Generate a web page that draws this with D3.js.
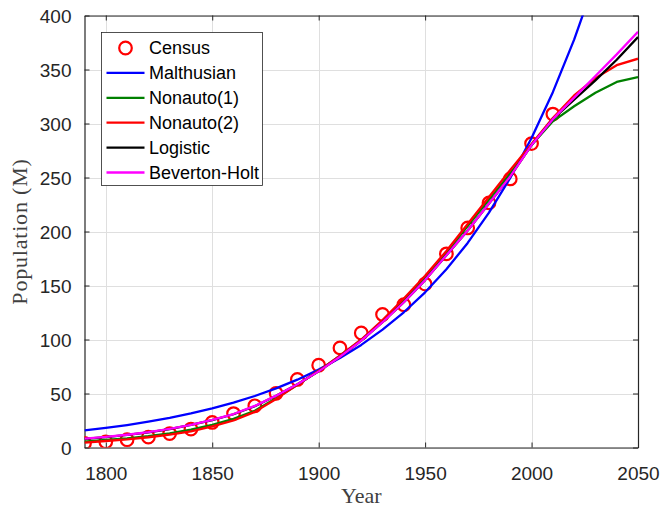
<!DOCTYPE html>
<html>
<head>
<meta charset="utf-8">
<script src="https://cdn.jsdelivr.net/npm/d3@7"></script>
<style>
	body { margin: 0; background: #fff; }
	svg { display: block; }
</style>
</head>
<body>
<div id="fig-population"><svg width="661" height="508"></svg></div>
<script>

// census data (millions)
const censusYears = [1790, 1800, 1810, 1820, 1830, 1840, 1850, 1860, 1870, 1880, 1890, 1900,
	1910, 1920, 1930, 1940, 1950, 1960, 1970, 1980, 1990, 2000, 2010];
const censusPop = [3.9, 5.3, 7.2, 9.6, 12.9, 17.1, 23.2, 31.4, 38.6, 50.2, 63.0, 76.2,
	92.2, 106.0, 123.2, 132.2, 151.3, 179.3, 203.3, 226.5, 248.7, 281.4, 308.7];

const modelYears = [1790, 1800, 1810, 1820, 1830, 1840, 1850, 1860, 1870, 1880, 1890, 1900,
	1910, 1920, 1930, 1940, 1950, 1960, 1970, 1980, 1990, 2000, 2010, 2020, 2030, 2040, 2050];
const malthusian = [15.8, 18.1, 20.8, 23.9, 27.4, 31.5, 36.2, 41.5, 47.7, 54.7, 62.8, 72.1,
	82.8, 95.0, 109.1, 125.2, 143.7, 165.0, 189.4, 217.4, 249.6, 286.6, 329.0, 377.6, 433.6, 497.8, 571.5];
const nonauto1 = [5.5, 7, 8.5, 10.5, 13, 16.5, 21, 26.5, 34, 45.5, 58, 71,
	85, 99.5, 117, 136.5, 157.5, 180.5, 205, 229.5, 254, 280, 302, 316, 328.5, 338.5, 343];
const nonauto2 = [4.5, 6, 7.5, 9.5, 12, 15, 19.5, 25, 33, 45, 58, 71,
	85, 100, 118, 138, 159, 182, 207, 232, 257, 281, 305, 326, 342, 354, 360];
const logistic = [8, 9.7, 11.7, 14.1, 17.1, 20.9, 25.3, 30.8, 38.2, 48, 58.5, 70.5,
	84, 99, 116, 134.5, 155, 178, 201, 226, 251, 280, 304, 322, 340, 359, 380];
const bevertonHolt = [8.3, 9.8, 11.8, 14.2, 17.2, 21, 25.5, 31, 38.5, 48, 58.5, 70.5,
	84, 99, 116, 134.5, 155, 178, 201, 226, 251, 280, 304, 324, 344, 364, 385];

const seriesNames = ['Malthusian', 'Nonauto(1)', 'Nonauto(2)', 'Logistic', 'Beverton-Holt'];
const seriesValues = [malthusian, nonauto1, nonauto2, logistic, bevertonHolt];
const seriesColors = ['#0000ff', '#008000', '#ff0000', '#000000', '#ff00ff'];

const xTicks = [1800, 1850, 1900, 1950, 2000, 2050];
const yTicks = [0, 50, 100, 150, 200, 250, 300, 350, 400];

function drawChart() {
	const svg = d3.select('#fig-population svg');
	const axisColor = '#262626';

	// plot box in pixels
	const left = 84.5, right = 638, top = 15.5, bottom = 447.5;

	const scaleX = d3.scaleLinear().domain([1790, 2050]).range([left, right]);
	const scaleY = d3.scaleLinear().domain([0, 400]).range([bottom, top]);

	svg.append('defs').append('clipPath')
		.attr('id', 'plot-clip')
		.append('rect')
		.attr('x', left).attr('y', top)
		.attr('width', right - left).attr('height', bottom - top);

	// grid
	const grid = svg.append('g').attr('stroke', '#dfdfdf').attr('stroke-width', 1);
	grid.selectAll('line.gx').data(xTicks).enter().append('line')
		.attr('x1', d => Math.round(scaleX(d)) + 0.5).attr('x2', d => Math.round(scaleX(d)) + 0.5)
		.attr('y1', top).attr('y2', bottom);
	grid.selectAll('line.gy').data(yTicks).enter().append('line')
		.attr('y1', d => Math.round(scaleY(d)) + 0.5).attr('y2', d => Math.round(scaleY(d)) + 0.5)
		.attr('x1', left).attr('x2', right);

	// axes (MATLAB style box, ticks pointing in)
	const tickFont = '"Liberation Sans", Arial, sans-serif';
	const xAxis = d3.axisBottom(scaleX).tickValues(xTicks).tickSizeInner(-5).tickSizeOuter(0)
		.tickPadding(19).tickFormat(d3.format('d'));
	const yAxis = d3.axisLeft(scaleY).tickValues(yTicks).tickSizeInner(-5).tickSizeOuter(0)
		.tickPadding(13);

	const gx = svg.append('g').attr('transform', `translate(0,${bottom})`).call(xAxis);
	const gy = svg.append('g').attr('transform', `translate(${left},0)`).call(yAxis);
	const gxTop = svg.append('g').attr('transform', `translate(0,${top})`)
		.call(d3.axisTop(scaleX).tickValues(xTicks).tickSizeInner(-5).tickSizeOuter(0).tickFormat(''));
	const gyRight = svg.append('g').attr('transform', `translate(${right},0)`)
		.call(d3.axisRight(scaleY).tickValues(yTicks).tickSizeInner(-5).tickSizeOuter(0).tickFormat(''));

	[gx, gy, gxTop, gyRight].forEach(g => {
		g.select('.domain').attr('stroke', axisColor).attr('stroke-width', 1.2);
		g.selectAll('.tick line').attr('stroke', axisColor).attr('stroke-width', 1);
		g.selectAll('.tick text')
			.attr('fill', axisColor)
			.style('font-family', tickFont)
			.style('font-size', '19px');
	});
	gy.selectAll('.tick text').attr('dy', '0.36em');

	// axis labels (LaTeX-ish serif)
	const labelFont = '"Liberation Serif", "Times New Roman", serif';
	svg.append('text')
		.attr('x', (left + right) / 2).attr('y', 503)
		.attr('text-anchor', 'middle')
		.attr('fill', '#404040')
		.style('font-family', labelFont).style('font-size', '22px')
		.text('Year');
	svg.append('text')
		.attr('transform', `translate(27,${(top + bottom) / 2}) rotate(-90)`)
		.attr('text-anchor', 'middle')
		.attr('fill', '#404040')
		.style('font-family', labelFont).style('font-size', '22px')
		.style('letter-spacing', '0.8px')
		.text('Population (M)');

	const plotArea = svg.append('g').attr('clip-path', 'url(#plot-clip)');

	// census markers
	plotArea.selectAll('circle.census')
		.data(censusYears)
		.enter()
		.append('circle')
		.attr('class', 'census')
		.attr('cx', d => scaleX(d))
		.attr('cy', (d, i) => scaleY(censusPop[i]))
		.attr('r', 6.3)
		.attr('fill', 'none')
		.attr('stroke', '#ff0000')
		.attr('stroke-width', 2.2);

	// model curves
	const lineGenerator = d3.line()
		.x((d, i) => scaleX(modelYears[i]))
		.y(d => scaleY(d));

	plotArea.selectAll('path.model')
		.data(seriesValues)
		.enter()
		.append('path')
		.attr('class', 'model')
		.attr('d', d => lineGenerator(d))
		.attr('fill', 'none')
		.attr('stroke', (d, i) => seriesColors[i])
		.attr('stroke-width', 2.3)
		.attr('stroke-linejoin', 'round');

	// legend
	const legend = svg.append('g').attr('transform', 'translate(101.5,32.5)');
	legend.append('rect')
		.attr('width', 161).attr('height', 153)
		.attr('fill', '#fff')
		.attr('stroke', axisColor)
		.attr('stroke-width', 0.8);

	const rowY = i => 15.5 + i * 24.9;
	const entries = ['Census'].concat(seriesNames);
	const rows = legend.selectAll('g.entry')
		.data(entries)
		.enter()
		.append('g')
		.attr('class', 'entry')
		.attr('transform', (d, i) => `translate(0,${rowY(i)})`);

	rows.filter((d, i) => i === 0)
		.append('circle')
		.attr('cx', 24).attr('cy', 0).attr('r', 6.3)
		.attr('fill', 'none').attr('stroke', '#ff0000').attr('stroke-width', 2.2);

	rows.filter((d, i) => i > 0)
		.append('line')
		.attr('x1', 5).attr('x2', 43)
		.attr('y1', 0).attr('y2', 0)
		.attr('stroke', (d, i) => seriesColors[i])
		.attr('stroke-width', 2.3);

	rows.append('text')
		.attr('x', 47.5).attr('y', 0).attr('dy', '0.36em')
		.attr('fill', '#000')
		.style('font-family', tickFont)
		.style('font-size', '18px')
		.text(d => d);
}

function whenDocumentLoaded(action) {
	if (document.readyState === 'loading') {
		document.addEventListener('DOMContentLoaded', action);
	} else {
		action();
	}
}

whenDocumentLoaded(drawChart);
</script>
</body>
</html>
